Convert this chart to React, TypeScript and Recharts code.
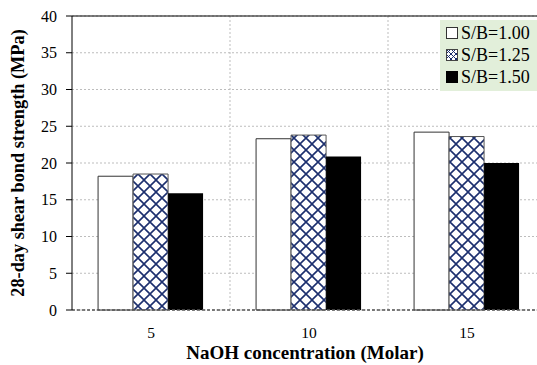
import { BarChart, Bar, XAxis, YAxis, CartesianGrid, ReferenceLine } from 'recharts'

const categories = ['5', '10', '15']
const sb100 = [18.2, 23.3, 24.2]
const sb125 = [18.5, 23.8, 23.6]
const sb150 = [15.9, 20.9, 20.0]
const yTicks = [0, 5, 10, 15, 20, 25, 30, 35, 40]

const seriesNames = ['S/B=1.00', 'S/B=1.25', 'S/B=1.50']

const data = categories.map((c, i) => ({
  conc: c,
  a: sb100[i],
  b: sb125[i],
  c: sb150[i],
}))

const FONT = '"Liberation Serif", "Times New Roman", serif'
const NAVY = '#1c2f6e'

function HatchIcon() {
  return (
    <svg width={12} height={12} style={{ marginRight: 3 }}>
      <defs>
        <pattern id="hatchSmall" width={5} height={5} patternUnits="userSpaceOnUse">
          <rect width={5} height={5} fill="#fff" />
          <path d="M0,0 L5,5 M5,0 L0,5" stroke={NAVY} strokeWidth={1} />
        </pattern>
      </defs>
      <rect x={0.5} y={0.5} width={11} height={11} fill="url(#hatchSmall)" stroke="#444" />
    </svg>
  )
}

function LegendBox() {
  const icons = [
    <svg width={12} height={12} style={{ marginRight: 3 }}><rect x={0.5} y={0.5} width={11} height={11} fill="#fff" stroke="#333" /></svg>,
    <HatchIcon />,
    <svg width={12} height={12} style={{ marginRight: 3 }}><rect x={0} y={0} width={12} height={12} fill="#000" /></svg>,
  ]
  return (
    <div style={{ position: 'absolute', left: 440, top: 20, width: 97, boxSizing: 'border-box', background: '#e2efda', padding: '2px 0 3px 6px', fontFamily: FONT, fontSize: 18, color: '#000', lineHeight: '22px' }}>
      {seriesNames.map((n, i) => (
        <div key={n} style={{ display: 'flex', alignItems: 'center', whiteSpace: 'nowrap' }}>
          {icons[i]}
          <span>{n}</span>
        </div>
      ))}
    </div>
  )
}

export default function App() {
  return (
    <div style={{ position: 'absolute', left: 0, top: 0, width: 537, height: 365, overflow: 'hidden', background: '#fff' }}>
      <BarChart
        width={546}
        height={365}
        data={data}
        margin={{ top: 16, right: 0, left: 0, bottom: 0 }}
        barCategoryGap="16.5%"
        barGap={0}
      >
        <defs>
          <pattern id="hatch" width={12} height={12} patternUnits="userSpaceOnUse">
            <rect width={12} height={12} fill="#fff" />
            <path d="M0,0 L12,12 M12,0 L0,12" stroke={NAVY} strokeWidth={1.6} />
          </pattern>
        </defs>
        <CartesianGrid
          stroke="#bdbdbd"
          strokeDasharray="2 2"
          verticalCoordinatesGenerator={({ offset }: any) =>
            categories.map((_, i) => offset.left + (i * offset.width) / categories.length).slice(1)
          }
        />
        <XAxis
          dataKey="conc"
          height={55}
          tickLine={false}
          tickMargin={11}
          axisLine={{ stroke: '#555', strokeDasharray: '3 2', strokeWidth: 1.5 }}
          tick={{ fontFamily: FONT, fontSize: 15.5, fill: '#000' }}
          label={{ value: 'NaOH concentration (Molar)', position: 'insideBottom', offset: 6, dx: -4, style: { fontFamily: FONT, fontSize: 19, fontWeight: 'bold', fill: '#000' } }}
        />
        <YAxis
          width={72}
          domain={[0, 40]}
          ticks={yTicks}
          interval={0}
          tickSize={6}
          tickMargin={9}
          axisLine={{ stroke: '#000' }}
          tickLine={{ stroke: '#000' }}
          tick={{ fontFamily: FONT, fontSize: 16, fill: '#000' }}
          label={{ value: '28-day shear bond strength (MPa)', angle: -90, position: 'insideLeft', offset: 18, style: { fontFamily: FONT, fontSize: 18.3, fontWeight: 'bold', fill: '#000', textAnchor: 'middle' } }}
        />
        <ReferenceLine y={40} stroke="#000" strokeWidth={1.2} />
        <Bar dataKey="a" name={seriesNames[0]} fill="#fff" stroke="#333" strokeWidth={1} isAnimationActive={false} />
        <Bar dataKey="b" name={seriesNames[1]} fill="url(#hatch)" stroke="#555" strokeWidth={1} isAnimationActive={false} />
        <Bar dataKey="c" name={seriesNames[2]} fill="#000" isAnimationActive={false} />
      </BarChart>
      <LegendBox />
    </div>
  )
}
